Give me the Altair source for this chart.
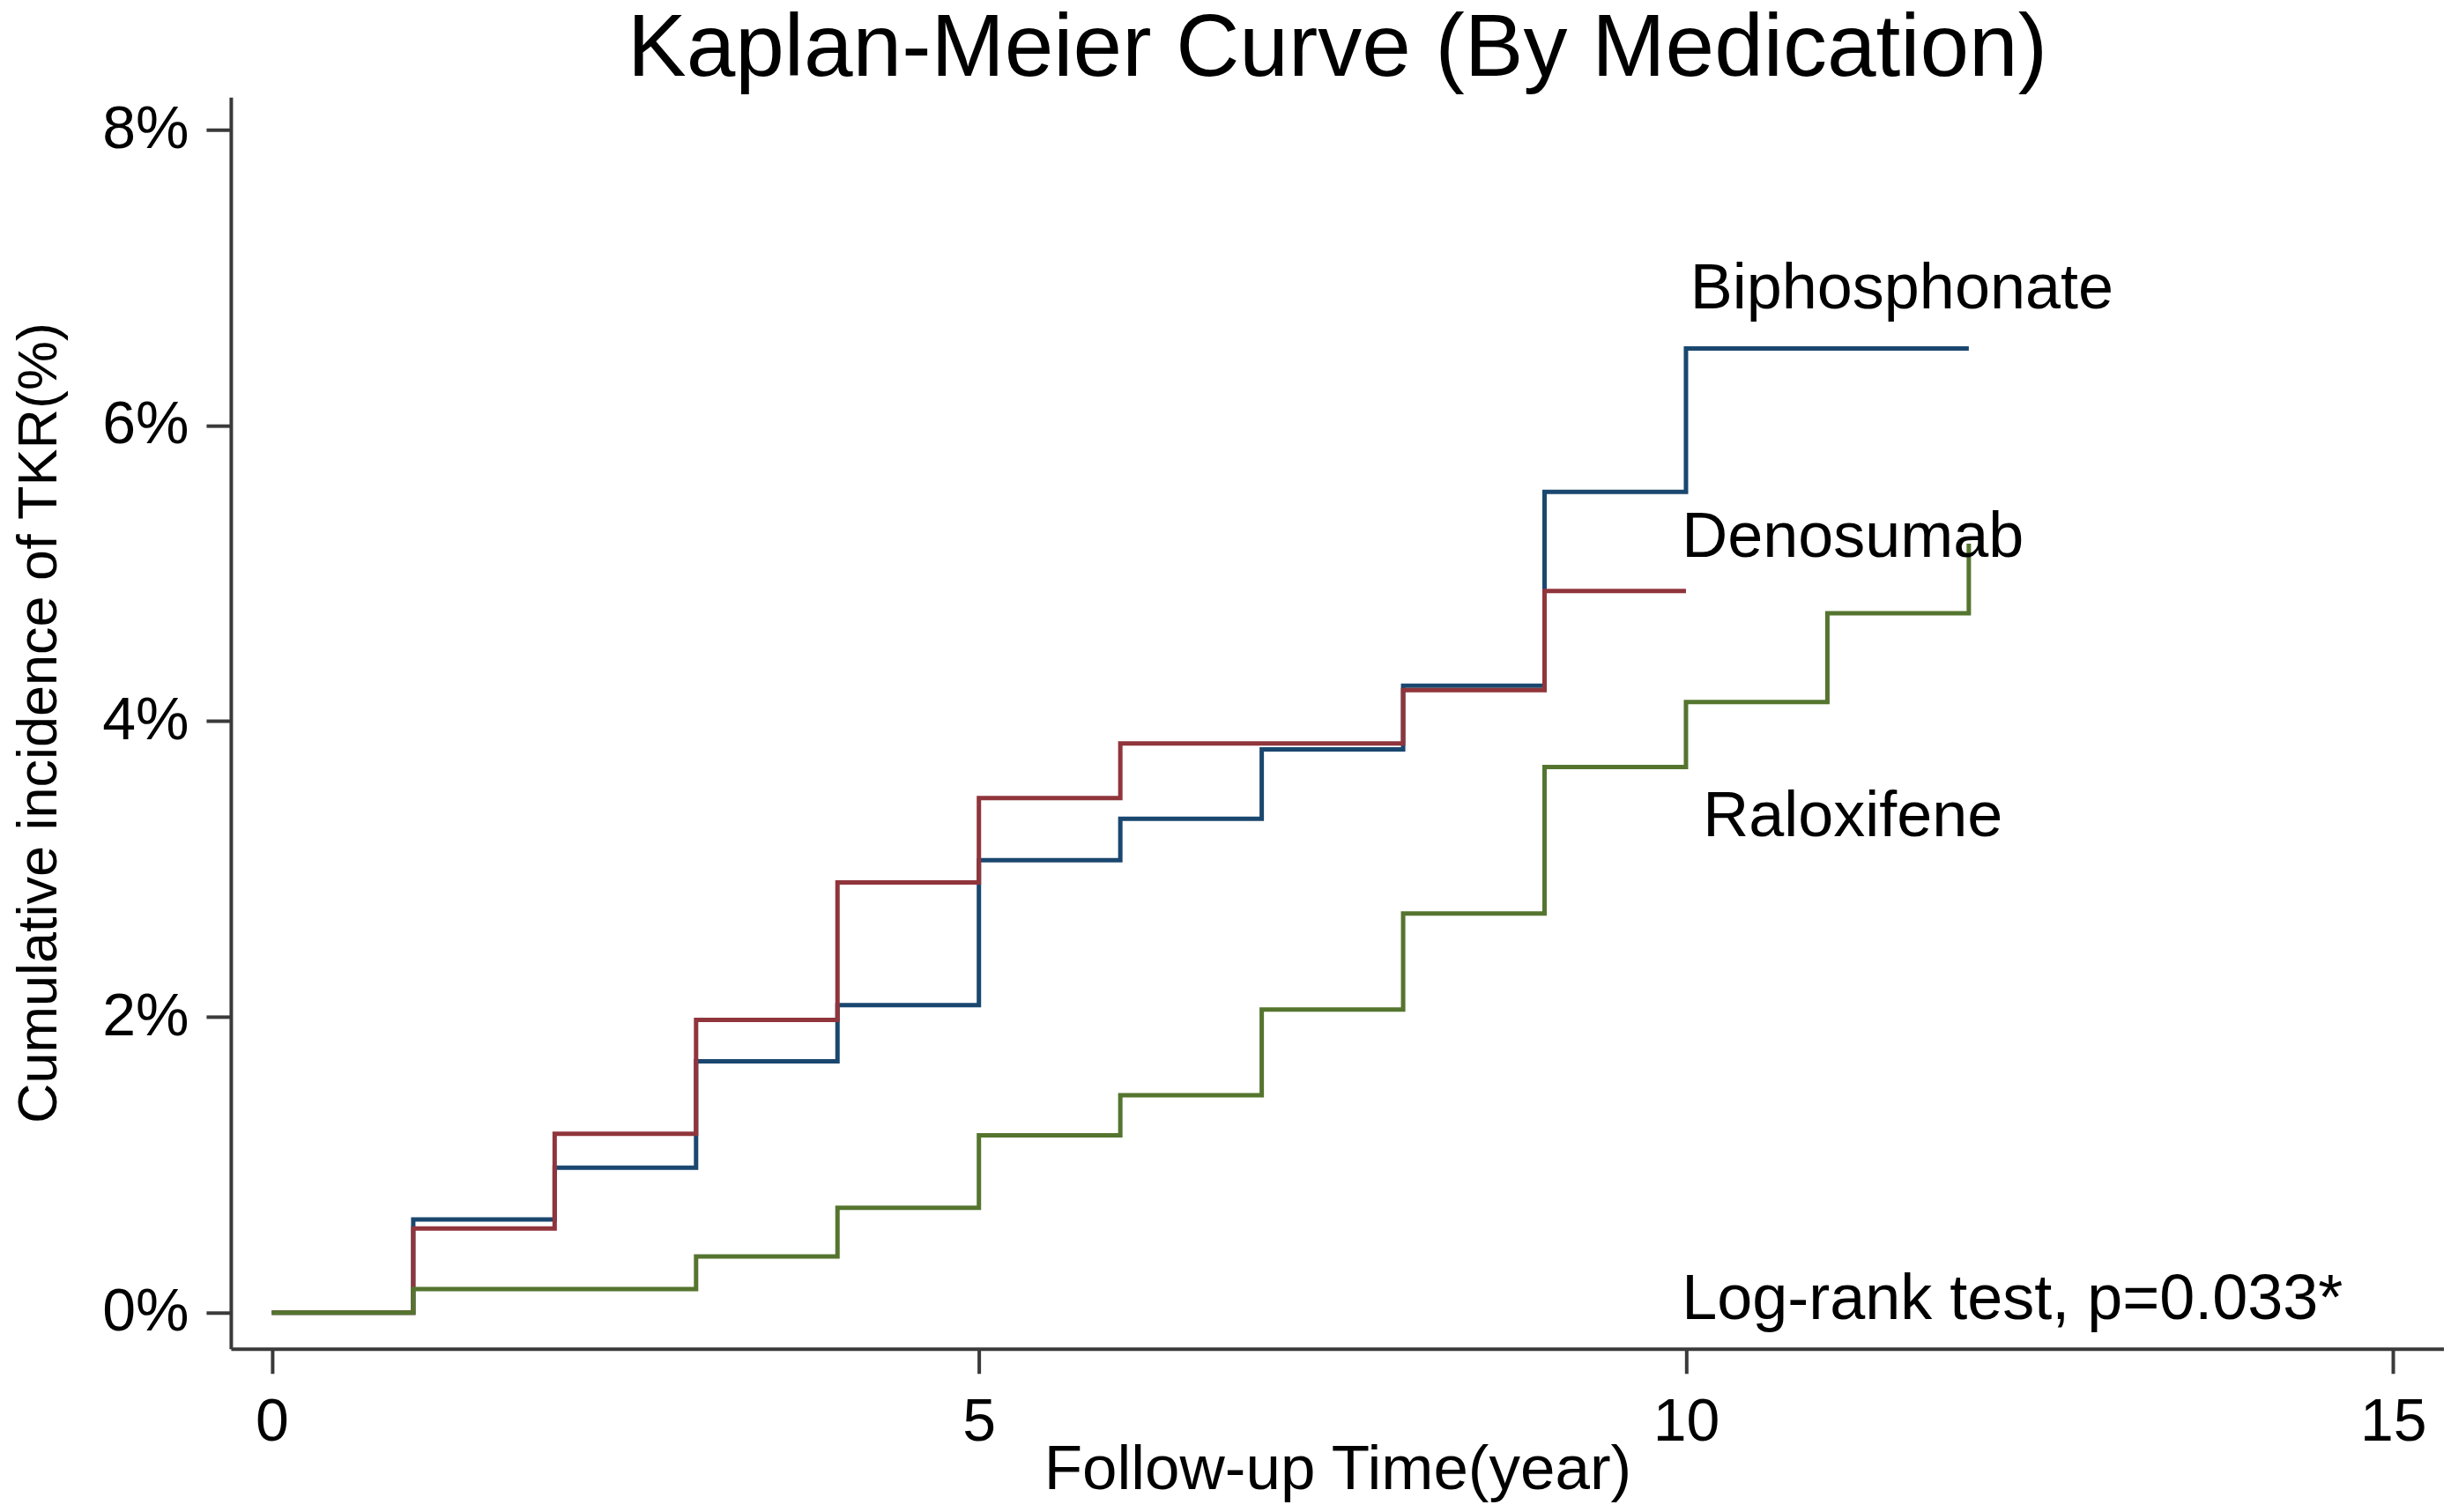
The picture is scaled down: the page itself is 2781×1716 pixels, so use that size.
import altair as alt
import pandas as pd

# ---- data (cumulative incidence, %) ----
bip_time = [0, 1, 2, 3, 4, 5, 6, 7, 8, 9, 10, 12]
bip_value = [0, 0.63, 0.98, 1.70, 2.08, 3.06, 3.34, 3.81, 4.24, 5.55, 6.52, 6.52]

den_time = [0, 1, 2, 3, 4, 5, 6, 7, 8, 9, 10]
den_value = [0, 0.57, 1.21, 1.98, 2.91, 3.48, 3.85, 3.85, 4.21, 4.88, 4.88]

ral_time = [0, 1, 2, 3, 4, 5, 6, 7, 8, 9, 10, 11, 12]
ral_value = [0, 0.16, 0.16, 0.38, 0.71, 1.20, 1.47, 2.05, 2.70, 3.69, 4.13, 4.73, 5.20]

series_names = ["Biphosphonate", "Denosumab", "Raloxifene"]
series_colors = ["#1a476f", "#90353b", "#55752f"]

x_ticks = [0, 5, 10, 15]
y_ticks = [0, 2, 4, 6, 8]

ann_text = ["Biphosphonate", "Denosumab", "Raloxifene", "Log-rank test, p=0.033*"]
ann_x = [10.03, 9.97, 10.12, 9.97]
ann_y = [6.79, 5.11, 3.22, -0.04]

FONT = "Liberation Sans"

rows = []
for name, ts, vs in zip(series_names, [bip_time, den_time, ral_time],
                        [bip_value, den_value, ral_value]):
    for t, v in zip(ts, vs):
        rows.append({"series": name, "time": t, "value": v})
df = pd.DataFrame(rows)
ann_df = pd.DataFrame({"text": ann_text, "x": ann_x, "y": ann_y})

x_scale = alt.Scale(domain=[-0.29, 15.36], nice=False, zero=False)
y_scale = alt.Scale(domain=[-0.244, 8.22], nice=False, zero=False)

lines = alt.Chart(df).mark_line(interpolate="step-after", strokeWidth=5).encode(
    x=alt.X("time:Q", scale=x_scale,
            axis=alt.Axis(values=x_ticks, format="d", title="Follow-up Time(year)",
                          titleY=159, titleBaseline="alphabetic", titleFontSize=71,
                          titleFontWeight="normal",
                          labelFontSize=68, labelPadding=22)),
    y=alt.Y("value:Q", scale=y_scale,
            axis=alt.Axis(values=y_ticks, labelExpr="datum.value + '%'",
                          title="Cumulative incidence of TKR(%)",
                          titleAngle=270, titleX=-198, titleY=710,
                          titleBaseline="alphabetic", titleAlign="center",
                          titleFontWeight="normal",
                          titleFontSize=63, labelFontSize=68, labelPadding=20)),
    color=alt.Color("series:N", scale=alt.Scale(domain=series_names, range=series_colors),
                    legend=None),
    order=alt.Order("series:N"),
)

texts = alt.Chart(ann_df).mark_text(
    align="left", baseline="alphabetic", fontSize=72, font=FONT, color="black"
).encode(
    x=alt.X("x:Q", scale=x_scale),
    y=alt.Y("y:Q", scale=y_scale),
    text="text:N",
)

chart = alt.layer(lines, texts).properties(
    width=2512,
    height=1421,
    padding={"left": 254, "top": 102, "right": 0, "bottom": 175},
    autosize=alt.AutoSizeParams(type="none"),
    background="white",
    title=alt.TitleParams(
        "Kaplan-Meier Curve (By Medication)",
        fontSize=100, font=FONT, fontWeight="normal", color="black",
        anchor="middle", frame="group", offset=3,
    ),
).configure_view(stroke=None).configure_axis(
    grid=False,
    domainColor="#3a3a3a",
    domainWidth=4,
    tickColor="#3a3a3a",
    tickWidth=4,
    tickSize=28,
    labelFont=FONT,
    labelColor="black",
    titleFont=FONT,
    titleColor="black",
    titleFontWeight="normal",
)

chart.save("out.html", embed_options={"renderer": "svg", "actions": False})
